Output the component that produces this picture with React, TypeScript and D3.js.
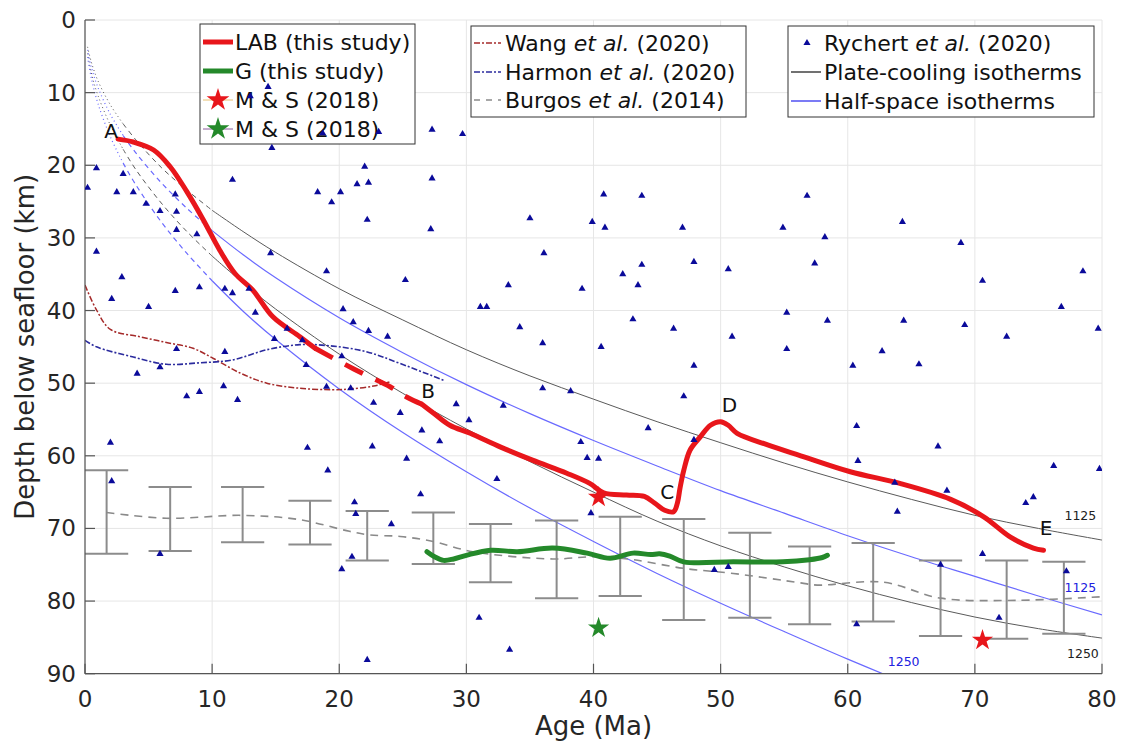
import { useEffect, useRef } from "react";
import * as d3 from "d3";

const ageTicks = [0, 10, 20, 30, 40, 50, 60, 70, 80];
const depthTicks = [0, 10, 20, 30, 40, 50, 60, 70, 80, 90];

// LAB (this study): solid A-part, dashed gap, solid B..E
const labAgeA = [2.6, 3.8, 5.4, 6.7, 8.0, 9.3, 10.6, 11.8, 13.2, 14.8, 16.9, 18.1];
const labDepthA = [16.4, 16.8, 17.9, 20.2, 23.6, 27.5, 31.7, 34.9, 37.2, 40.9, 43.6, 45.2];
const labAgeGap = [18.1, 20.0, 22.0, 24.0, 25.3, 26.5];
const labDepthGap = [45.2, 47.0, 48.8, 50.5, 51.9, 52.9];
const labAgeB = [26.5, 27.4, 28.7, 30.3, 32.7, 35.2, 37.9, 39.7, 40.8, 42.6, 44.0, 44.8, 45.6, 46.3, 46.6, 46.8, 47.1, 47.6, 48.4, 49.2, 50.0, 50.6, 51.3, 53.7, 56.3, 60.2, 64.1, 68.1, 70.7, 72.8, 74.6, 75.4];
const labDepthB = [52.9, 54.1, 55.8, 56.9, 58.8, 60.6, 62.4, 63.8, 65.1, 65.4, 65.6, 66.5, 67.5, 67.7, 66.5, 64.5, 62.0, 59.2, 57.4, 55.8, 55.3, 55.8, 56.9, 58.5, 60.0, 62.2, 63.8, 66.0, 68.4, 71.2, 72.7, 73.0];

// G (this study)
const gAge = [26.9, 27.5, 28.2, 29.0, 30.0, 31.9, 34.0, 36.8, 39.5, 41.3, 43.1, 44.5, 45.2, 46.0, 47.1, 51.0, 54.9, 57.0, 58.0, 58.4];
const gDepth = [73.2, 73.9, 74.4, 74.2, 73.7, 73.0, 73.2, 72.7, 73.4, 74.1, 73.4, 73.6, 73.5, 73.8, 74.6, 74.6, 74.6, 74.3, 74.0, 73.7];

// M & S (2018)
const msRedAge = [40.4, 70.6];
const msRedDepth = [65.7, 85.4];
const msGreenAge = [40.4];
const msGreenDepth = [83.7];

// Wang et al. (2020)
const wangAge = [0, 0.9, 2.0, 4.3, 6.4, 8.5, 10.1, 12.2, 14.3, 16.9, 19.5, 20.8, 22.7, 24.0];
const wangDepth = [36.5, 39.9, 42.6, 43.6, 44.4, 45.2, 46.6, 48.6, 50.0, 50.7, 50.9, 50.8, 50.4, 49.8];

// Harmon et al. (2020)
const harmonAge = [0, 0.9, 3.8, 6.4, 9.0, 11.6, 14.3, 16.9, 19.5, 22.2, 24.8, 28.2];
const harmonDepth = [44.1, 45.0, 46.4, 47.4, 47.2, 46.8, 45.4, 44.7, 44.9, 45.7, 47.3, 49.6];

// Burgos et al. (2014) mean and error bars
const burgosAge = [1.7, 6.4, 12.4, 16.9, 20.8, 22.4, 24.8, 27.4, 30.5, 36.8, 40.0, 43.1, 47.1, 51.0, 56.3, 57.6, 62.8, 67.3, 73.3, 80];
const burgosDepth = [67.8, 68.6, 68.2, 68.8, 70.4, 70.9, 71.1, 71.8, 73.2, 74.2, 73.9, 74.3, 75.5, 76.2, 77.5, 77.8, 77.4, 79.6, 79.9, 79.4];
const barAge = [1.7, 6.7, 12.4, 17.7, 22.2, 27.4, 31.9, 37.1, 42.1, 47.1, 52.3, 57.0, 62.0, 67.3, 72.5, 77.0];
const barTop = [62.0, 64.3, 64.3, 66.2, 67.6, 67.8, 69.4, 68.9, 68.4, 68.7, 70.6, 72.5, 72.0, 74.4, 74.4, 74.6];
const barBottom = [73.5, 73.1, 71.9, 72.2, 74.4, 74.9, 77.4, 79.6, 79.3, 82.6, 82.3, 83.2, 82.8, 84.8, 85.2, 84.5];

// Isotherms
const isoAge = [0.2, 0.5, 1, 2, 3, 4, 6, 8, 10, 12.5, 15, 20, 25, 30, 35, 40, 45, 50, 55, 60, 65, 70, 75, 80];
const plate1125 = [3.7, 5.8, 8.3, 11.7, 14.3, 16.5, 20.3, 23.4, 26.2, 29.2, 32.0, 37.0, 41.3, 45.4, 49.0, 52.2, 55.3, 58.2, 61.0, 63.6, 66.0, 68.2, 70.0, 71.6];
const plate1250 = [4.6, 7.3, 10.3, 14.5, 17.8, 20.6, 25.2, 29.1, 32.5, 36.3, 39.8, 46.0, 51.4, 56.3, 60.8, 65.0, 69.0, 72.4, 75.3, 77.9, 80.2, 82.2, 83.8, 85.1];
const half1125 = [4.1, 6.5, 9.2, 13.0, 15.9, 18.3, 22.4, 25.9, 29.0, 32.4, 35.5, 41.0, 45.8, 50.2, 54.2, 57.9, 61.4, 64.8, 67.9, 71.0, 73.9, 76.6, 79.3, 81.9];
const half1250 = [5.1, 8.0, 11.4, 16.1, 19.7, 22.7, 27.8, 32.1, 35.9, 40.2, 44.0, 50.8, 56.8, 62.2, 67.2, 71.8, 76.2, 80.3, 84.2, 88.0, 91.6, 95.0, 98.4, 101.6];

// Rychert et al. (2020)
const rychertAge = [0.2, 0.9, 3.0, 2.5, 3.8, 4.8, 5.9, 7.1, 7.2, 7.2, 8.8, 11.6, 14.4, 14.7, 18.3, 18.7, 19.4, 20.1, 21.4, 22.0, 22.3, 22.2, 23.1, 27.3, 29.7, 27.3, 35.0, 27.2, 39.9, 40.8, 40.9, 43.8, 47.0, 54.9, 56.8, 58.2, 64.3, 68.9, 0.9, 2.9, 2.1, 5.0, 7.1, 9.0, 7.2, 4.1, 5.9, 8.0, 9.0, 11.0, 11.0, 11.6, 12.9, 13.4, 14.6, 14.9, 15.9, 17.1, 17.4, 19.0, 20.3, 21.1, 22.3, 23.8, 20.2, 19.0, 20.9, 22.7, 24.8, 10.9, 12.0, 2.0, 2.1, 17.5, 19.1, 22.6, 36.1, 33.3, 31.1, 31.6, 34.2, 36.0, 39.1, 42.3, 43.8, 43.5, 47.9, 50.6, 43.1, 46.3, 40.6, 50.9, 55.2, 55.2, 47.9, 36.0, 38.2, 47.1, 25.2, 29.2, 30.2, 32.9, 26.5, 27.9, 25.3, 39.0, 39.5, 40.4, 32.4, 44.3, 47.9, 26.4, 57.4, 70.6, 78.5, 58.4, 64.4, 69.2, 76.8, 79.7, 60.4, 62.7, 65.6, 72.5, 60.7, 67.1, 60.8, 63.7, 67.8, 76.2, 79.8, 74.6, 5.9, 20.2, 21.0, 21.2, 21.3, 22.2, 24.1, 39.8, 31.0, 33.4, 49.5, 50.6, 63.9, 74.0, 70.6, 67.3, 60.7, 71.9, 77.2, 13.0];
const rychertDepth = [23.1, 20.4, 21.2, 23.7, 23.7, 25.3, 26.3, 24.0, 26.4, 28.9, 29.5, 22.0, 9.2, 17.6, 23.7, 15.6, 25.1, 23.7, 22.6, 20.2, 22.4, 27.5, 15.4, 15.1, 15.7, 21.8, 27.3, 28.8, 27.8, 24.0, 28.6, 24.2, 28.6, 28.6, 24.2, 29.9, 27.8, 30.7, 31.9, 35.4, 38.4, 39.5, 37.3, 36.8, 45.3, 48.7, 47.8, 51.8, 51.2, 45.7, 37.0, 37.6, 37.0, 40.3, 32.1, 43.9, 42.5, 44.1, 47.5, 34.6, 39.8, 41.6, 42.8, 43.6, 46.3, 50.5, 50.7, 52.7, 54.1, 50.4, 52.3, 58.2, 63.5, 58.9, 62.0, 58.7, 32.1, 36.5, 39.5, 39.5, 42.3, 44.5, 37.0, 35.0, 33.7, 36.5, 33.3, 34.3, 41.2, 42.5, 45.0, 43.6, 40.3, 45.3, 47.6, 50.7, 51.1, 51.8, 35.8, 52.9, 55.1, 53.1, 56.5, 58.0, 60.4, 58.1, 60.3, 60.4, 63.2, 56.2, 57.8, 65.3, 33.5, 35.9, 34.6, 41.4, 41.4, 42.0, 39.5, 42.5, 47.6, 45.6, 47.4, 43.6, 55.9, 58.7, 60.7, 63.7, 64.8, 61.4, 61.8, 65.7, 73.5, 75.6, 73.9, 66.4, 68.0, 88.1, 69.4, 67.9, 82.3, 86.7, 75.7, 75.3, 67.7, 66.5, 73.5, 75.0, 83.2, 82.3, 75.9, 10.5];

// Point labels
const letterText = ["A", "B", "C", "D", "E"];
const letterAge = [2.05, 27.0, 45.8, 50.7, 75.6];
const letterDepth = [15.3, 51.1, 65.0, 53.0, 69.9];
const isoLabelText = ["1125", "1250", "1125", "1250"];
const isoLabelAge = [78.3, 78.5, 78.3, 64.4];
const isoLabelDepth = [68.2, 87.2, 78.1, 88.3];
const isoLabelKind = ["plate", "plate", "half", "half"];

const RED = "#e8161b";
const GREEN = "#24892a";
const PLATE = "#5a5a5a";
const HALF = "#6a6aff";
const FONT = "DejaVu Sans, sans-serif";

type P = [number, number];
const zip = (a: number[], b: number[]): P[] => a.map((v, i) => [v, b[i]]);

export default function App() {
  const svgRef = useRef<SVGSVGElement>(null);

  useEffect(() => {
    if (!svgRef.current) return;
    const svg = d3.select(svgRef.current);
    svg.selectAll("*").remove();

    const x = d3.scaleLinear().domain([0, 80]).range([85, 1102]);
    const y = d3.scaleLinear().domain([0, 90]).range([20, 673.7]);
    const [x0, x1] = x.range();
    const [y0, y1] = y.range();

    const line = d3
      .line<P>()
      .x((d) => x(d[0]))
      .y((d) => y(d[1]))
      .curve(d3.curveCatmullRom);

    svg
      .append("defs")
      .append("clipPath")
      .attr("id", "plotclip")
      .append("rect")
      .attr("x", x0)
      .attr("y", y0)
      .attr("width", x1 - x0)
      .attr("height", y1 - y0);

    // Gridlines
    const grid = svg.append("g").attr("stroke", "#e6e6e6").attr("stroke-width", 1);
    ageTicks.forEach((t) => grid.append("line").attr("x1", x(t)).attr("x2", x(t)).attr("y1", y0).attr("y2", y1));
    depthTicks.forEach((t) => grid.append("line").attr("x1", x0).attr("x2", x1).attr("y1", y(t)).attr("y2", y(t)));

    const plot = svg.append("g").attr("clip-path", "url(#plotclip)");

    // Isotherms: dotted at young ages, dashed, then solid
    const isotherms: [number[], string, number][] = [
      [plate1125, PLATE, 1],
      [plate1250, PLATE, 1],
      [half1125, HALF, 1.2],
      [half1250, HALF, 1.2],
    ];
    isotherms.forEach(([depths, color, w]) => {
      const pts = zip(isoAge, depths);
      const parts: [P[], string | null][] = [
        [pts.filter((p) => p[0] <= 3), "1,3"],
        [pts.filter((p) => p[0] >= 3 && p[0] <= 10), "5,4"],
        [pts.filter((p) => p[0] >= 10), null],
      ];
      parts.forEach(([seg, dash]) => {
        plot
          .append("path")
          .attr("d", line(seg))
          .attr("fill", "none")
          .attr("stroke", color)
          .attr("stroke-width", w)
          .attr("stroke-dasharray", dash);
      });
    });

    // Burgos error bars
    const bars = plot.append("g").attr("stroke", "#8c8c8c").attr("stroke-width", 2);
    barAge.forEach((a, i) => {
      bars.append("line").attr("x1", x(a)).attr("x2", x(a)).attr("y1", y(barTop[i])).attr("y2", y(barBottom[i]));
      [barTop[i], barBottom[i]].forEach((d) =>
        bars
          .append("line")
          .attr("x1", x(a - 1.7))
          .attr("x2", x(a + 1.7))
          .attr("y1", y(d))
          .attr("y2", y(d))
      );
    });

    plot
      .append("path")
      .attr("d", line(zip(burgosAge, burgosDepth)))
      .attr("fill", "none")
      .attr("stroke", "#8a8a8a")
      .attr("stroke-width", 1.6)
      .attr("stroke-dasharray", "8,6");

    plot
      .append("path")
      .attr("d", line(zip(wangAge, wangDepth)))
      .attr("fill", "none")
      .attr("stroke", "#a52a2a")
      .attr("stroke-width", 1.5)
      .attr("stroke-dasharray", "6,2,2,2");

    plot
      .append("path")
      .attr("d", line(zip(harmonAge, harmonDepth)))
      .attr("fill", "none")
      .attr("stroke", "#2b2b9e")
      .attr("stroke-width", 1.6)
      .attr("stroke-dasharray", "6,2,2,2");

    // G line
    plot
      .append("path")
      .attr("d", line(zip(gAge, gDepth)))
      .attr("fill", "none")
      .attr("stroke", GREEN)
      .attr("stroke-width", 5)
      .attr("stroke-linecap", "round");

    // LAB line
    plot
      .append("path")
      .attr("d", line(zip(labAgeA, labDepthA)))
      .attr("fill", "none")
      .attr("stroke", RED)
      .attr("stroke-width", 5)
      .attr("stroke-linecap", "round");
    plot
      .append("path")
      .attr("d", line(zip(labAgeGap, labDepthGap)))
      .attr("fill", "none")
      .attr("stroke", RED)
      .attr("stroke-width", 5)
      .attr("stroke-dasharray", "20,14");
    plot
      .append("path")
      .attr("d", line(zip(labAgeB, labDepthB)))
      .attr("fill", "none")
      .attr("stroke", RED)
      .attr("stroke-width", 5)
      .attr("stroke-linecap", "round")
      .attr("stroke-linejoin", "round");

    // Stars
    const star = d3.symbol().type(d3.symbolStar).size(140);
    zip(msRedAge, msRedDepth).forEach((p) =>
      plot.append("path").attr("d", star()).attr("transform", `translate(${x(p[0])},${y(p[1])})`).attr("fill", RED)
    );
    zip(msGreenAge, msGreenDepth).forEach((p) =>
      plot.append("path").attr("d", star()).attr("transform", `translate(${x(p[0])},${y(p[1])})`).attr("fill", GREEN)
    );

    // Letters
    letterText.forEach((t, i) =>
      svg
        .append("text")
        .attr("x", x(letterAge[i]))
        .attr("y", y(letterDepth[i]))
        .attr("text-anchor", "middle")
        .attr("dominant-baseline", "central")
        .attr("font-family", FONT)
        .attr("font-size", 20)
        .attr("fill", "#111")
        .text(t)
    );
    isoLabelText.forEach((t, i) =>
      svg
        .append("text")
        .attr("x", x(isoLabelAge[i]))
        .attr("y", y(isoLabelDepth[i]))
        .attr("text-anchor", "middle")
        .attr("dominant-baseline", "central")
        .attr("font-family", FONT)
        .attr("font-size", 12.5)
        .attr("fill", isoLabelKind[i] === "half" ? "#2020e0" : "#222")
        .text(t)
    );

    // Axes (MATLAB style, ticks inward)
    const axis = svg.append("g").attr("stroke", "#555").attr("stroke-width", 1.2);
    axis.append("line").attr("x1", x0).attr("x2", x0).attr("y1", y0).attr("y2", y1);
    axis.append("line").attr("x1", x0).attr("x2", x1).attr("y1", y1).attr("y2", y1);
    ageTicks.forEach((t) => axis.append("line").attr("x1", x(t)).attr("x2", x(t)).attr("y1", y1).attr("y2", y1 - 10));
    depthTicks.forEach((t) => axis.append("line").attr("x1", x0).attr("x2", x0 + 10).attr("y1", y(t)).attr("y2", y(t)));

    ageTicks.forEach((t) =>
      svg
        .append("text")
        .attr("x", x(t))
        .attr("y", 707)
        .attr("text-anchor", "middle")
        .attr("font-family", FONT)
        .attr("font-size", 23)
        .attr("fill", "#262626")
        .text(t)
    );
    depthTicks.forEach((t) =>
      svg
        .append("text")
        .attr("x", 76)
        .attr("y", y(t))
        .attr("text-anchor", "end")
        .attr("dominant-baseline", "central")
        .attr("font-family", FONT)
        .attr("font-size", 23)
        .attr("fill", "#262626")
        .text(t)
    );

    svg
      .append("text")
      .attr("x", (x0 + x1) / 2)
      .attr("y", 735)
      .attr("text-anchor", "middle")
      .attr("font-family", FONT)
      .attr("font-size", 26)
      .attr("fill", "#262626")
      .text("Age (Ma)");
    svg
      .append("text")
      .attr("transform", `translate(34,${(y0 + y1) / 2}) rotate(-90)`)
      .attr("text-anchor", "middle")
      .attr("font-family", FONT)
      .attr("font-size", 26)
      .attr("fill", "#262626")
      .text("Depth below seafloor (km)");

    // Legends
    const legendBox = (lx: number, ly: number, w: number, h: number) =>
      svg
        .append("rect")
        .attr("x", lx)
        .attr("y", ly)
        .attr("width", w)
        .attr("height", h)
        .attr("fill", "#fff")
        .attr("stroke", "#333")
        .attr("stroke-width", 1);
    const legendText = (tx: number, ty: number, parts: [string, boolean][]) => {
      const t = svg
        .append("text")
        .attr("x", tx)
        .attr("y", ty)
        .attr("dominant-baseline", "central")
        .attr("font-family", FONT)
        .attr("font-size", 22)
        .attr("fill", "#111");
      parts.forEach(([s, it]) => t.append("tspan").attr("font-style", it ? "italic" : "normal").text(s));
    };
    const legendLine = (lx1: number, lx2: number, ly: number, color: string, w: number, dash: string | null) =>
      svg
        .append("line")
        .attr("x1", lx1)
        .attr("x2", lx2)
        .attr("y1", ly)
        .attr("y2", ly)
        .attr("stroke", color)
        .attr("stroke-width", w)
        .attr("stroke-dasharray", dash);

    legendBox(200, 24, 215, 120);
    legendLine(203, 233, 42, RED, 5, null);
    legendText(235, 42, [["LAB (this study)", false]]);
    legendLine(203, 233, 71, GREEN, 5, null);
    legendText(235, 71, [["G (this study)", false]]);
    legendLine(203, 233, 100, "#e8c070", 1, null);
    svg.append("path").attr("d", star.size(160)()).attr("transform", "translate(218,100)").attr("fill", RED);
    legendText(235, 100, [["M & S (2018)", false]]);
    legendLine(203, 233, 129, "#8a5a9a", 1, null);
    svg.append("path").attr("d", star.size(160)()).attr("transform", "translate(218,129)").attr("fill", GREEN);
    legendText(235, 129, [["M & S (2018)", false]]);

    legendBox(471, 26, 275, 91);
    legendLine(474, 501, 43, "#a52a2a", 1.5, "6,2,2,2");
    legendText(505, 43, [["Wang ", false], ["et al.", true], [" (2020)", false]]);
    legendLine(474, 501, 72, "#2b2b9e", 1.5, "6,2,2,2");
    legendText(505, 72, [["Harmon ", false], ["et al.", true], [" (2020)", false]]);
    legendLine(474, 501, 100, "#8a8a8a", 1.5, "6,6");
    legendText(505, 100, [["Burgos ", false], ["et al.", true], [" (2014)", false]]);

    legendBox(788, 26, 306, 91);
    legendText(824, 43, [["Rychert ", false], ["et al.", true], [" (2020)", false]]);
    legendLine(791, 821, 72, "#111", 1.2, null);
    legendText(824, 72, [["Plate-cooling isotherms", false]]);
    legendLine(791, 821, 101, "#2222ee", 1.2, null);
    legendText(824, 101, [["Half-space isotherms", false]]);

    // Rychert triangles (drawn on top)
    const tri = d3.symbol().type(d3.symbolTriangle).size(22);
    svg
      .append("g")
      .attr("clip-path", "url(#plotclip)")
      .selectAll("path")
      .data(zip(rychertAge, rychertDepth))
      .join("path")
      .attr("d", tri())
      .attr("transform", (d) => `translate(${x(d[0])},${y(d[1])})`)
      .attr("fill", "#0a0a9a");
    svg.append("path").attr("d", tri()).attr("transform", "translate(807,43)").attr("fill", "#0a0a9a");
  }, []);

  return (
    <svg
      ref={svgRef}
      width={1126}
      height={749}
      style={{ position: "absolute", left: 0, top: 0, background: "#fff" }}
    />
  );
}
